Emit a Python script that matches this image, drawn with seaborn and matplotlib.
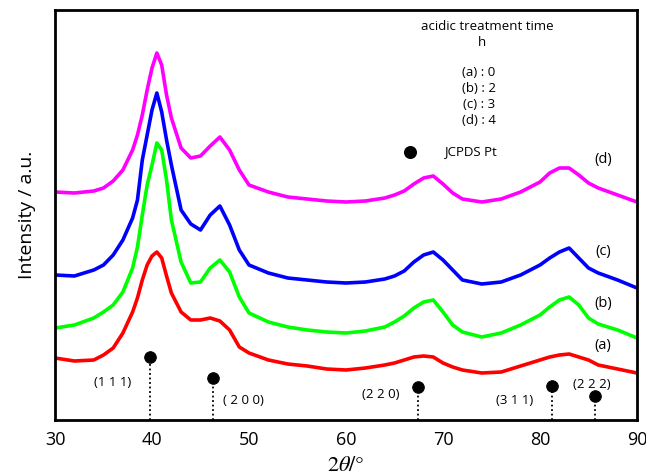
# XRD patterns of Pt catalyst after acidic treatment (a)-(d)
# curves are offset vertically; intensity in arbitrary units

import numpy as np
import pandas as pd
import matplotlib
matplotlib.use("Agg")
import matplotlib.pyplot as plt
import seaborn as sns

two_theta = [30, 32, 34, 35, 36, 37, 38, 38.5, 39, 39.5, 40, 40.5, 41, 41.5, 42, 43, 44, 45,
             46, 47, 48, 49, 50, 52, 54, 56, 58, 60, 62, 64, 65, 66, 67, 68, 69, 70, 71, 72,
             74, 76, 78, 80, 81, 82, 83, 84, 85, 86, 88, 90]

# values (offset already included)
int_a = [62, 59, 60, 65, 72, 87, 108, 122, 140, 155, 164, 168, 162, 144, 127, 108, 100, 100,
         102, 99, 90, 73, 67, 60, 56, 54, 51, 50, 52, 55, 57, 60, 63, 64, 63, 57, 53, 50,
         47, 48, 54, 60, 63, 65, 66, 63, 60, 55, 51, 47]
int_b = [92, 95, 102, 108, 115, 128, 152, 173, 205, 235, 255, 277, 270, 240, 200, 158, 137, 138,
         152, 160, 148, 123, 107, 98, 93, 90, 88, 87, 89, 93, 98, 104, 112, 118, 120, 108, 95, 88,
         83, 87, 95, 105, 113, 120, 123, 115, 102, 96, 90, 82]
int_c = [145, 144, 150, 155, 165, 180, 202, 220, 260, 285, 310, 327, 308, 280, 255, 210, 196, 190,
         205, 214, 195, 170, 155, 147, 142, 140, 138, 137, 138, 141, 144, 149, 158, 165, 168, 160, 150, 140,
         136, 138, 145, 155, 162, 168, 172, 162, 152, 147, 140, 132]
int_d = [228, 227, 229, 232, 239, 250, 270, 285, 305, 330, 352, 367, 355, 325, 302, 272, 262, 264,
         274, 283, 270, 250, 235, 228, 223, 221, 219, 218, 219, 222, 225, 229, 236, 242, 244, 236, 227, 221,
         218, 221, 228, 238, 247, 252, 252, 245, 237, 232, 225, 218]

samples = ["(a)", "(b)", "(c)", "(d)"]
hours = [0, 2, 3, 4]
colors = ["#ff0000", "#00ff00", "#0000ff", "#ff00ff"]

# JCPDS Pt reference peaks
pt_pos = [39.76, 46.24, 67.45, 81.24, 85.71]
pt_mark = [63, 42, 33, 34, 24]
pt_hkl = ["(1 1 1)", "( 2 0 0)", "(2 2 0)", "(3 1 1)", "(2 2 2)"]

df = pd.DataFrame({
    "2theta": two_theta * 4,
    "intensity": int_a + int_b + int_c + int_d,
    "sample": np.repeat(samples, len(two_theta)),
})

sns.set_style("white")
plt.rcParams["font.family"] = ["Open Sans", "DejaVu Sans"]
plt.rcParams["mathtext.fontset"] = "stix"
plt.rcParams["text.color"] = "black"
plt.rcParams["axes.labelcolor"] = "black"
plt.rcParams["xtick.color"] = "black"

fig = plt.figure(figsize=(6.46, 4.75), dpi=100)
ax = fig.add_axes([55 / 646, 55 / 475, 582 / 646, 410 / 475])

sns.lineplot(data=df, x="2theta", y="intensity", hue="sample", palette=colors,
             linewidth=2.6, legend=False, ax=ax)

# reference markers
ax.vlines(pt_pos, 0, pt_mark, colors="black", linestyles=(0, (1, 1.5)), linewidth=1.3)
sns.scatterplot(x=pt_pos, y=pt_mark, color="black", s=70, edgecolor="black", ax=ax, zorder=5)

hkl_xy = [(35.9, 37), (49.4, 20), (63.6, 25), (77.4, 20), (85.3, 36)]
for lab, (tx, ty) in zip(pt_hkl, hkl_xy):
    ax.text(tx, ty, lab, ha="center", va="center", fontsize=9.5)

# curve labels
for lab, ty in zip(samples, [75, 117, 168, 260]):
    ax.text(86.5, ty, lab, ha="center", va="center", fontsize=10.5)

# legend block
ax.text(74.6, 393, "acidic treatment time", ha="center", va="center", fontsize=9.5)
ax.text(74.0, 377, "h", ha="center", va="center", fontsize=9.5)
for i, (s, h) in enumerate(zip(samples, hours)):
    ax.text(73.7, 348 - 16 * i, f"{s} : {h}", ha="center", va="center", fontsize=9.5)
ax.scatter([66.6], [268], color="black", s=70, zorder=5)
ax.text(72.8, 268, "JCPDS Pt", ha="center", va="center", fontsize=9.5)

ax.set_xlim(30, 90)
ax.set_ylim(0, 410)
ax.set_xticks(range(30, 91, 10))
ax.set_yticks([])
ax.tick_params(axis="x", direction="in", length=6, width=1.5, labelsize=13, pad=8)
for sp in ax.spines.values():
    sp.set_linewidth(2)
    sp.set_color("black")

ax.set_xlabel(r"$2\theta/°$", fontsize=16, labelpad=4)
ax.set_ylabel("Intensity / a.u.", fontsize=14, labelpad=14)

fig.savefig("out.png", dpi=100)
